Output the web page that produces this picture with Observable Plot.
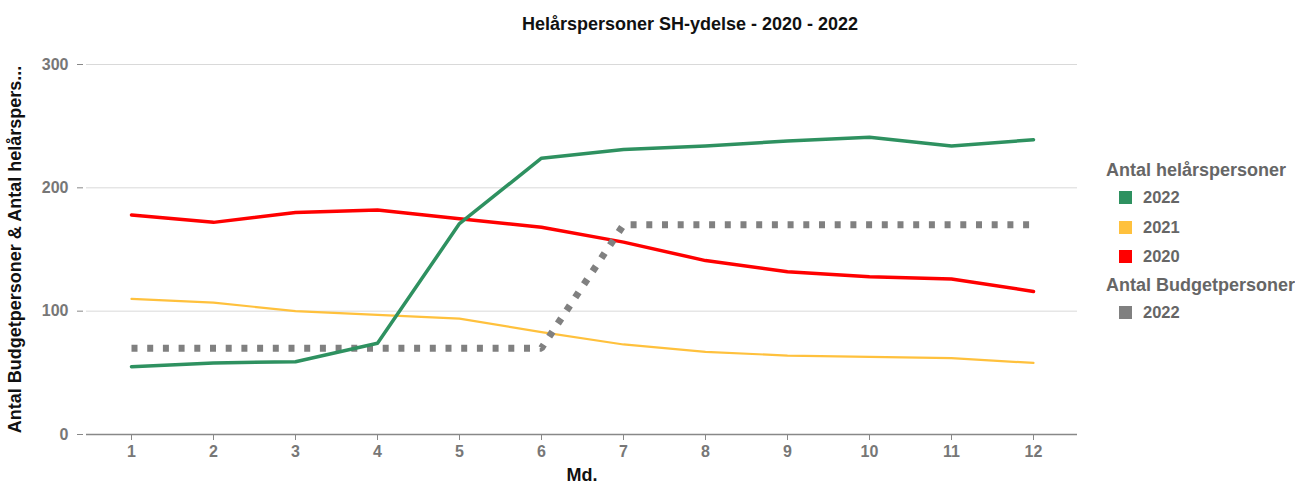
<!DOCTYPE html>
<html><head><meta charset="utf-8">
<script src="https://cdn.jsdelivr.net/npm/d3@7"></script>
<script src="https://cdn.jsdelivr.net/npm/@observablehq/plot@0.6"></script>
<style>
body{margin:0;background:#fff;font-family:"Liberation Sans",Arial,sans-serif;}
#wrap{position:relative;width:1295px;height:486px;overflow:hidden;}
#title{position:absolute;top:14px;left:690px;transform:translateX(-50%);font-weight:bold;font-size:18px;color:#111;white-space:nowrap;}
#chart{position:absolute;top:44px;left:0;}
#legend{position:absolute;left:1106px;top:157px;white-space:nowrap;color:#666;font-weight:bold;}
.lt{font-size:18px;height:26px;line-height:26px;}
.li{font-size:16.5px;height:29.5px;line-height:29.5px;padding-left:13px;display:flex;align-items:center;}
.sw{width:13px;height:13px;margin-right:11px;display:inline-block;}
g[aria-label="y-axis label"] text, g[aria-label="x-axis label"] text{font-weight:bold;fill:#111;font-size:18px;}
g[aria-label="y-axis tick label"] text, g[aria-label="x-axis tick label"] text{font-weight:bold;font-size:16px;}
</style></head>
<body>
<div id="wrap">
<div id="title">Helårspersoner SH-ydelse - 2020 - 2022</div>
<div id="chart"></div>
<div id="legend"></div>
</div>
<script>
const months = [1,2,3,4,5,6,7,8,9,10,11,12];
const hel2022 = [55,58,59,74,171,224,231,234,238,241,234,239];
const hel2021 = [110,107,100,97,94,83,73,67,64,63,62,58];
const hel2020 = [178,172,180,182,175,168,156,141,132,128,126,116];
const budget2022 = [70,70,70,70,70,70,170,170,170,170,170,170];
const yTicks = [0,100,200,300];

const colors = {g2022:"#2e9160", g2021:"#ffc13d", g2020:"#ff0000", b2022:"#808080"};

const toRows = (vals) => months.map((m,i)=>({m, v: vals[i]}));

const svg = Plot.plot({
  width: 1295,
  height: 442,
  marginLeft: 86,
  marginRight: 218,
  marginTop: 20,
  marginBottom: 52,
  style: {fontFamily: "'Liberation Sans', Arial, sans-serif", fontSize: "16px", background: "#fff"},
  x: {type: "point", domain: months, padding: 0.5},
  y: {domain: [0,300]},
  marks: [
    Plot.gridY(yTicks.filter(d=>d>0), {stroke: "#d9d9d9", strokeOpacity: 1}),
    Plot.axisY(yTicks, {tickSize: 6, dx: -3, tickPadding: 9, color: "#777", stroke: "#888",
      label: "Antal Budgetpersoner & Antal helårspers...", labelAnchor: "center", labelArrow: "none", labelOffset: 78}),
    Plot.ruleY([0], {stroke: "#888", strokeWidth: 1.5}),
    Plot.axisX(months, {tickSize: 6, tickPadding: 5, color: "#777", stroke: "#888",
      label: "Md.", labelAnchor: "center", labelArrow: "none", labelOffset: 46}),
    Plot.line(toRows(hel2021), {x: "m", y: "v", stroke: colors.g2021, strokeWidth: 2.2}),
    Plot.line(toRows(hel2020), {x: "m", y: "v", stroke: colors.g2020, strokeWidth: 3.5}),
    Plot.line(toRows(budget2022), {x: "m", y: "v", stroke: colors.b2022, strokeWidth: 7, strokeDasharray: "6 9.7", strokeLinecap: "butt", strokeLinejoin: "miter"}),
    Plot.line(toRows(hel2022), {x: "m", y: "v", stroke: colors.g2022, strokeWidth: 3.5})
  ]
});
document.getElementById("chart").appendChild(svg);

const legend = [
  {title: "Antal helårspersoner", items: [["2022", colors.g2022],["2021", colors.g2021],["2020", colors.g2020]]},
  {title: "Antal Budgetpersoner", items: [["2022", colors.b2022]]}
];
const lg = d3.select("#legend");
legend.forEach(sec => {
  lg.append("div").attr("class","lt").text(sec.title);
  sec.items.forEach(([t,c]) => {
    const row = lg.append("div").attr("class","li");
    row.append("span").attr("class","sw").style("background", c);
    row.append("span").text(t);
  });
});
</script>
</body></html>
